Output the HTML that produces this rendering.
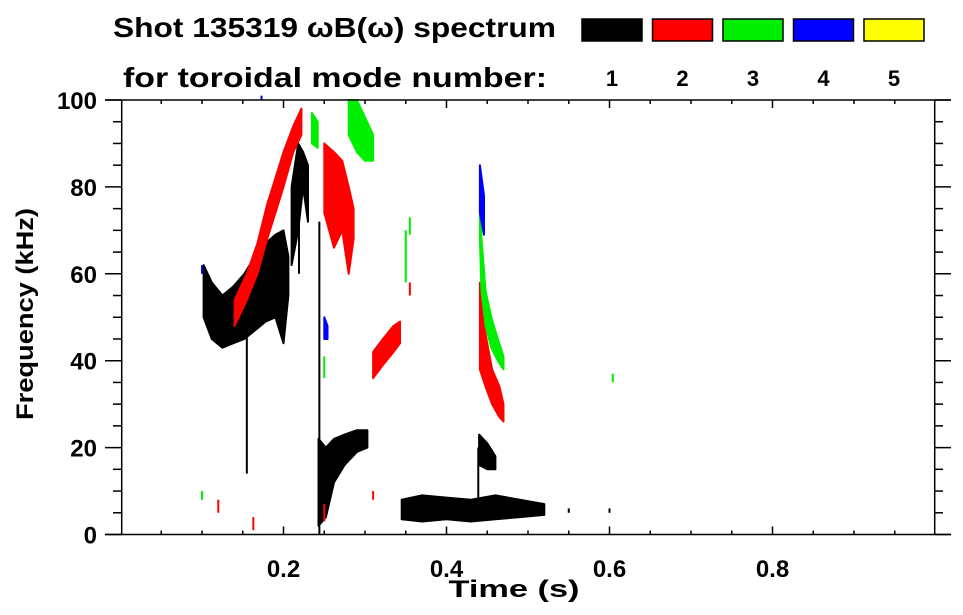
<!DOCTYPE html>
<html><head><meta charset="utf-8"><style>
html,body{margin:0;padding:0;background:#fff;}
svg{display:block;font-family:"Liberation Sans",sans-serif;font-weight:bold;}
</style></head><body>
<svg id="chart" width="963" height="615" viewBox="0 0 963 615">
<g id="header">
<text x="113" y="37" font-size="28" textLength="443" lengthAdjust="spacingAndGlyphs">Shot 135319 ωB(ω) spectrum</text>
<text x="123" y="87" font-size="28" textLength="424" lengthAdjust="spacingAndGlyphs">for toroidal mode number:</text>
</g>
<g id="legend"></g>
<g id="marks"></g>
<g id="axes"></g>
<text x="514" y="597" font-size="24" text-anchor="middle" textLength="131" lengthAdjust="spacingAndGlyphs">Time (s)</text>
<text transform="translate(33,314) rotate(-90)" font-size="24" text-anchor="middle" textLength="212" lengthAdjust="spacingAndGlyphs">Frequency (kHz)</text>
</svg>
<script>
const modes = ["1","2","3","4","5"];
const modeColors = ["#000000","#ff0000","#00ee00","#0000ff","#ffff00"];
const xTicks = [0.2,0.4,0.6,0.8];
const yTicks = [0,20,40,60,80,100];
// bands: [time, freqLow, freqHigh]
const mode1Bands = [
 [[0.102,50,62],[0.112,45,58],[0.125,43,55],[0.138,44,57],[0.152,45,60],[0.165,47,64],[0.178,49,67],[0.19,50,69],[0.2,44,70],[0.206,55,64]],
 [[0.21,62,80],[0.218,70,90],[0.224,80,88],[0.23,72,85]],
 [[0.243,2,22],[0.252,4,20],[0.262,12,22],[0.275,16,23],[0.29,19,24],[0.303,20,24]],
 [[0.345,3.5,8],[0.37,3,9],[0.4,3.5,8.5],[0.43,3,8],[0.46,3.5,9],[0.49,4,8],[0.52,4.5,7]],
 [[0.44,16,23],[0.45,15,21],[0.46,15,18]]
];
const mode1Lines = [[0.155,14,50],[0.244,0,72],[0.219,60,80],[0.439,5,20],[0.55,5,6],[0.6,5,6]];
const mode2Bands = [
 [[0.14,48,54],[0.155,54,60],[0.168,60,67],[0.18,68,76],[0.19,74,82],[0.2,80,88],[0.212,88,94],[0.222,92,98]],
 [[0.25,74,90],[0.262,66,88],[0.272,70,86],[0.28,60,80],[0.286,68,75]],
 [[0.31,36,42],[0.322,39,45],[0.335,42,48],[0.343,44,49]],
 [[0.441,38,58],[0.448,34,46],[0.456,30,38],[0.465,27,34],[0.47,26,30]]
];
const mode2Lines = [[0.12,5,8],[0.163,1,4],[0.25,3,7],[0.31,8,10],[0.355,55,58]];
const mode3Bands = [
 [[0.28,92,100],[0.29,88,100],[0.3,86,96],[0.31,86,92]],
 [[0.235,90,97],[0.242,89,95]],
 [[0.441,68,76],[0.443,56,68],[0.448,48,56],[0.455,43,50],[0.463,40,45],[0.47,38,41]]
];
const mode3Lines = [[0.35,58,70],[0.355,69,73],[0.604,35,37],[0.25,36,41],[0.1,8,10]];
const mode4Bands = [[[0.441,74,85],[0.446,69,78]],[[0.25,45,50],[0.254,45,48]]];
const mode4Lines = [[0.1,60,62],[0.173,100,101]];
const allBands = [mode1Bands, mode2Bands, mode3Bands, mode4Bands, []];
const allLines = [mode1Lines, mode2Lines, mode3Lines, mode4Lines, []];

const X0=120.5, XW=815, Y0=534.5, YH=4.345;
function xs(t){return X0+XW*t;}
function ys(f){return Y0-YH*f;}
const NS="http://www.w3.org/2000/svg";
function mk(tag,attrs){const e=document.createElementNS(NS,tag);for(const k in attrs)e.setAttribute(k,attrs[k]);return e;}

const lg=document.getElementById('legend');
modes.forEach((m,i)=>{
 const bx=582+70.5*i;
 const r=mk('rect',{x:bx,y:19,width:60,height:22,fill:modeColors[i],stroke:'#000','stroke-width':1.5});
 
 
 lg.appendChild(r);
 const t=mk('text',{x:bx+30,y:86,'font-size':22,'text-anchor':'middle'});
 t.textContent=m;
 
 
 lg.appendChild(t);
});

const mg=document.getElementById('marks');
allBands.forEach((bands,mi)=>{
 bands.forEach((b,bi)=>{
  const top=b.map(p=>xs(p[0]).toFixed(1)+','+ys(p[2]).toFixed(1));
  const bot=b.slice().reverse().map(p=>xs(p[0]).toFixed(1)+','+ys(p[1]).toFixed(1));
  const pg=mk('polygon',{points:top.concat(bot).join(' '),fill:modeColors[mi],stroke:modeColors[mi],'stroke-width':2,'stroke-linejoin':'round'});
  
  
  mg.appendChild(pg);
 });
 allLines[mi].forEach((l,li)=>{
  const ln=mk('line',{x1:xs(l[0]),x2:xs(l[0]),y1:ys(l[1]),y2:ys(l[2]),stroke:modeColors[mi],'stroke-width':2});
  
  
  mg.appendChild(ln);
 });
});

const ax=document.getElementById('axes');
function L(x1,y1,x2,y2,name){const l=mk('line',{x1,y1,x2,y2,stroke:'#000','stroke-width':1.5});ax.appendChild(l);}
L(105,Y0,951,Y0,'x-axis-line');
L(105,100,951,100,'top-axis-line');
L(121.7,100,121.7,Y0,'y-axis-line');
L(934.7,100,934.7,Y0,'right-axis-line');
for(let k=1;k<20;k++){
 const t=k*0.05, major=(k%4===0), x=xs(t), len=major?8:4;
 L(x,Y0,x,Y0-len,'x-tick');
 L(x,100,x,100+len,'top-tick');
}
for(let k=0;k<=20;k++){
 const f=k*5, y=ys(f), major=(k%4===0);
 L(major?105:113,y,121.7,y,'y-tick');
 L(934.7,y,major?951:943,y,'right-tick');
}
xTicks.forEach(v=>{const t=mk('text',{x:xs(v),y:577,'font-size':24,'text-anchor':'middle'});t.textContent=v.toFixed(1);
 
 
 ax.appendChild(t);});
yTicks.forEach(v=>{const t=mk('text',{x:97,y:ys(v)+9,'font-size':24,'text-anchor':'end'});t.textContent=v;
 
 
 ax.appendChild(t);});
</script>
</body></html>
